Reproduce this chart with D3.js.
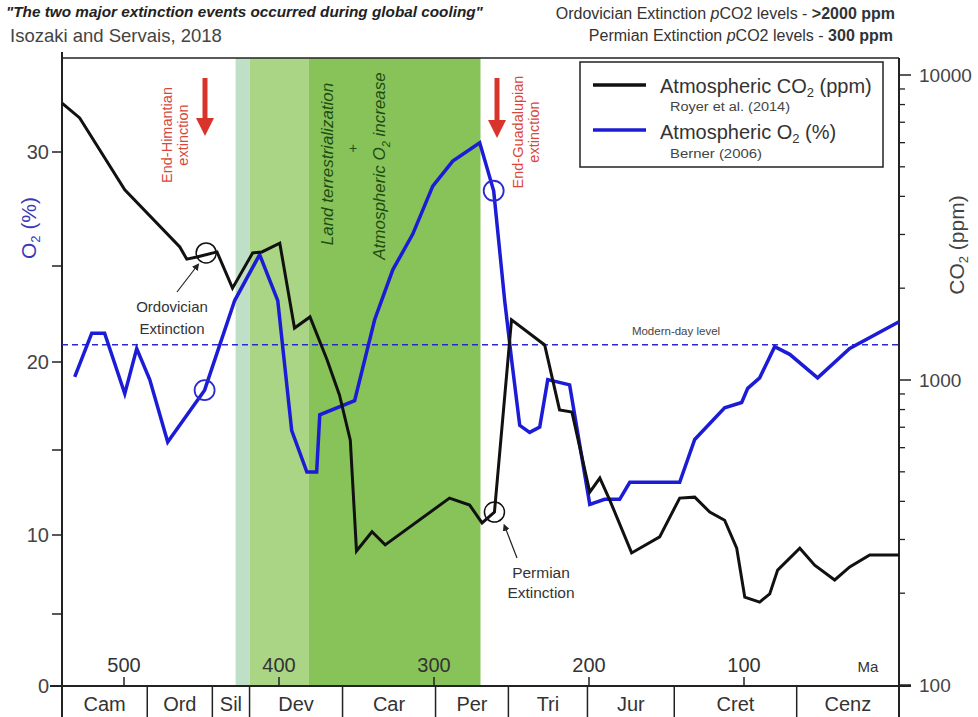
<!DOCTYPE html>
<html><head><meta charset="utf-8">
<script src="https://cdn.jsdelivr.net/npm/d3@7"></script>
<style>body{margin:0;background:#fff}svg{display:block}text{font-family:"Liberation Sans",Arial,sans-serif}</style>
</head><body><svg id="c" width="978" height="717"></svg>
<script>
// ---- data ----
const co2Age = [540,528.6,499.5,464,459.5,453,440,430,417,411,399.5,390,380,369,361,354,350,340,331.5,290,277,269,261,250,228.6,219,211,199.5,193,186.6,172.5,154.4,141.5,131.8,122.1,112.5,104.7,99.5,89.9,83.4,78.3,64,54.4,41.5,31.8,18.9,0];
const co2Ppm = [8090,7230,4200,2730,2490,2530,2630,2000,2610,2630,2810,1480,1610,1165,893,635,275,318,288,410,389,340,369,1575,1303,798,785,429,477,404,271,306,410,413,369,347,281,194,187,199,238,281,247,221,244,267,267];
const o2Age = [531.8,520.8,512.5,499.5,491.8,483.4,471.8,448,428.6,412.5,400.8,391.8,382,375.7,373.7,351.2,338.3,326.6,313.7,300.8,287.9,270.5,261.5,254.4,249.9,244.7,238.3,231.8,226.6,212.5,199.5,189.9,180.2,173.7,141.5,131.8,112.5,101.5,97.6,89.9,80.2,70.5,52.5,31.8,0];
const o2Pct = [19.15,21.5,21.5,18.2,20.7,19.0,15.45,18.4,23.2,25.5,23.2,16.1,13.7,13.7,17.0,17.8,22.2,24.8,26.4,28.5,29.6,30.4,28.3,23.2,20.1,16.4,16.0,16.3,19.0,18.7,11.8,12.1,12.1,13.1,13.1,15.6,17.4,17.7,18.5,19.1,20.8,20.4,19.1,20.7,22.1];
const periods = ["Cam","Ord","Sil","Dev","Car","Per","Tri","Jur","Cret","Cenz"];
const periodStart = [540,485,443,419,359,299,252,201,145,66];
const periodEnd = [485,443,419,359,299,252,201,145,66,0];
const ageTicks = [500,400,300,200,100];
const o2Ticks = [0,5,10,15,20,25,30];
const o2Labels = [0,10,20,30];
const co2Major = [100,1000,10000];
const co2Minor = [200,300,400,500,600,700,800,900,2000,3000,4000,5000,6000,7000,8000,9000];
const bandStart = [428,419,381];
const bandEnd = [419,381,270];
const bandColor = ["#bfe0c6","#a9d585","#88c35a"];
const modernO2 = 20.9;
const circlesCO2 = [[447,2610],[261,369]];
const circlesO2 = [[448,18.4],[261.5,28.3]];

// ---- scales ----
const svg = d3.select("#c");
const L = 62, R = 899, T = 58, B = 686;
const x = d3.scaleLinear().domain([540,0]).range([L,R]);
const yO2 = d3.scaleLinear().domain(o2Ticks).range([686,614,535,450,362,266,152]);
const yCO2 = d3.scaleLog().domain([100,10000]).range([685,75]);

// bands
svg.selectAll("rect.band").data(bandStart).join("rect")
  .attr("x",(d,i)=>x(d)).attr("y",T).attr("width",(d,i)=>x(bandEnd[i])-x(d)).attr("height",B-T)
  .attr("fill",(d,i)=>bandColor[i]);

// frame
svg.append("line").attr("x1",L).attr("x2",R).attr("y1",T).attr("y2",T).attr("stroke","#222").attr("stroke-width",1.5);
svg.append("line").attr("x1",L).attr("x2",L).attr("y1",T-6).attr("y2",717).attr("stroke","#222").attr("stroke-width",2);
svg.append("line").attr("x1",R).attr("x2",R).attr("y1",T).attr("y2",717).attr("stroke","#222").attr("stroke-width",2);
svg.append("line").attr("x1",L-12).attr("x2",R+12).attr("y1",B).attr("y2",B).attr("stroke","#222").attr("stroke-width",2);

// left axis ticks
svg.selectAll("line.lt").data(o2Ticks).join("line").attr("x1",L-10).attr("x2",L).attr("y1",d=>yO2(d)).attr("y2",d=>yO2(d)).attr("stroke","#222").attr("stroke-width",1.5);
svg.selectAll("text.ll").data(o2Labels).join("text").attr("x",L-13).attr("y",d=>yO2(d)+7).attr("text-anchor","end")
  .attr("font-size",20).attr("fill","#444").text(d=>d);

// right axis ticks
svg.selectAll("line.rt").data(co2Minor).join("line").attr("x1",R).attr("x2",R+6).attr("y1",d=>yCO2(d)).attr("y2",d=>yCO2(d)).attr("stroke","#222").attr("stroke-width",1.3);
svg.selectAll("line.rM").data(co2Major).join("line").attr("x1",R).attr("x2",R+12).attr("y1",d=>yCO2(d)).attr("y2",d=>yCO2(d)).attr("stroke","#222").attr("stroke-width",1.5);
svg.selectAll("text.rl").data(co2Major).join("text").attr("x",R+20).attr("y",d=>yCO2(d)+7)
  .attr("font-size",19).attr("fill","#444").text(d=>d);

// age ticks
svg.selectAll("line.at").data(ageTicks).join("line").attr("x1",d=>x(d)).attr("x2",d=>x(d)).attr("y1",B).attr("y2",B-9).attr("stroke","#222").attr("stroke-width",1.5);
svg.selectAll("text.al").data(ageTicks).join("text").attr("x",d=>x(d)).attr("y",B-14).attr("text-anchor","middle")
  .attr("font-size",20).attr("fill","#333").text(d=>d);
svg.append("text").attr("x",868).attr("y",B-14).attr("text-anchor","middle").attr("font-size",15).attr("fill","#333").text("Ma");

// periods
svg.selectAll("line.pd").data(periodStart.slice(1)).join("line").attr("x1",d=>x(d)).attr("x2",d=>x(d)).attr("y1",B).attr("y2",717).attr("stroke","#222").attr("stroke-width",1.5);
svg.selectAll("text.pn").data(periods).join("text").attr("x",(d,i)=>(x(periodStart[i])+x(periodEnd[i]))/2).attr("y",711)
  .attr("text-anchor","middle").attr("font-size",20).attr("fill","#333").text(d=>d);

// modern-day level
svg.append("line").attr("x1",L).attr("x2",R).attr("y1",yO2(modernO2)).attr("y2",yO2(modernO2)).attr("stroke","#2a2ad0").attr("stroke-width",1.6).attr("stroke-dasharray","6,4");
svg.append("text").attr("x",676).attr("y",yO2(modernO2)-10).attr("text-anchor","middle").attr("font-size",11.5).attr("fill","#444").text("Modern-day level");

// lines
const co2Line = d3.line().x(d=>x(d[0])).y(d=>yCO2(d[1]));
const o2Line = d3.line().x(d=>x(d[0])).y(d=>yO2(d[1]));
svg.append("path").attr("d",o2Line(o2Age.map((a,i)=>[a,o2Pct[i]]))).attr("fill","none").attr("stroke","#1c1cd6").attr("stroke-width",3.5).attr("stroke-linejoin","miter");
svg.append("path").attr("d",co2Line(co2Age.map((a,i)=>[a,co2Ppm[i]]))).attr("fill","none").attr("stroke","#111").attr("stroke-width",3).attr("stroke-linejoin","miter");

// circles
svg.selectAll("circle.cc").data(circlesCO2).join("circle").attr("cx",d=>x(d[0])).attr("cy",d=>yCO2(d[1])).attr("r",10).attr("fill","none").attr("stroke","#111").attr("stroke-width",1.5);
svg.selectAll("circle.co").data(circlesO2).join("circle").attr("cx",d=>x(d[0])).attr("cy",d=>yO2(d[1])).attr("r",10).attr("fill","none").attr("stroke","#2a2ad0").attr("stroke-width",1.8);

// arrows defs
const defs = svg.append("defs");
defs.append("marker").attr("id","ah").attr("viewBox","0 0 10 10").attr("refX",5).attr("refY",5).attr("markerWidth",6).attr("markerHeight",6).attr("orient","auto")
  .append("path").attr("d","M0,0L10,5L0,10z").attr("fill","#222");
function redArrow(cx, y1, y2){
  svg.append("line").attr("x1",cx).attr("x2",cx).attr("y1",y1).attr("y2",y2-14).attr("stroke","#d9342b").attr("stroke-width",5);
  svg.append("path").attr("d",`M${cx-9},${y2-18}L${cx+9},${y2-18}L${cx},${y2}z`).attr("fill","#d9342b");
}
redArrow(205,78,136);
redArrow(497,78,138);
function vtext(xc, yc, str, size, color, style){
  const t = svg.append("text").attr("transform",`translate(${xc},${yc}) rotate(-90)`).attr("text-anchor","middle")
    .attr("font-size",size).attr("fill",color).attr("font-style",style||"normal");
  t.text(str); return t;
}
vtext(172,135,"End-Himantian",14.5,"#d9463a");
vtext(188,135,"extinction",14.5,"#d9463a");
vtext(523,132,"End-Guadalupian",14.5,"#d9463a");
vtext(539,132,"extinction",14.5,"#d9463a");
vtext(333,164,"Land terrestrialization",17,"#1e4d12","italic");
svg.append("text").attr("x",353).attr("y",153).attr("text-anchor","middle").attr("font-size",14).attr("fill","#1e4d12").text("+");
const at = vtext(385,166,"",17,"#1e4d12","italic");
at.append("tspan").text("Atmospheric O");
at.append("tspan").attr("font-size",11).attr("dy",5).text("2");
at.append("tspan").attr("dy",-5).text(" increase");

// extinction labels
svg.append("text").attr("x",172).attr("y",312).attr("text-anchor","middle").attr("font-size",15).attr("fill","#333").text("Ordovician");
svg.append("text").attr("x",172).attr("y",334).attr("text-anchor","middle").attr("font-size",15).attr("fill","#333").text("Extinction");
svg.append("line").attr("x1",177).attr("y1",292).attr("x2",197).attr("y2",266).attr("stroke","#222").attr("stroke-width",1.2).attr("marker-end","url(#ah)");
svg.append("text").attr("x",541).attr("y",578).attr("text-anchor","middle").attr("font-size",15.5).attr("fill","#333").text("Permian");
svg.append("text").attr("x",541).attr("y",598).attr("text-anchor","middle").attr("font-size",15.5).attr("fill","#333").text("Extinction");
svg.append("line").attr("x1",517).attr("y1",558).attr("x2",505).attr("y2",527).attr("stroke","#222").attr("stroke-width",1.2).attr("marker-end","url(#ah)");

// axis titles
const o2t = svg.append("text").attr("transform","translate(36,228) rotate(-90)").attr("text-anchor","middle").attr("font-size",21).attr("fill","#3a3ab8");
o2t.append("tspan").text("O"); o2t.append("tspan").attr("font-size",13).attr("dy",4).text("2"); o2t.append("tspan").attr("dy",-4).text(" (%)");
const co2t = svg.append("text").attr("transform","translate(964,245) rotate(-90)").attr("text-anchor","middle").attr("font-size",21).attr("fill","#444");
co2t.append("tspan").text("CO"); co2t.append("tspan").attr("font-size",13).attr("dy",4).text("2"); co2t.append("tspan").attr("dy",-4).text(" (ppm)");

// legend
svg.append("rect").attr("x",580).attr("y",62).attr("width",303).attr("height",105).attr("fill","#fff").attr("stroke","#222").attr("stroke-width",1.5);
svg.append("line").attr("x1",593).attr("x2",646).attr("y1",85).attr("y2",85).attr("stroke","#111").attr("stroke-width",3.5);
svg.append("line").attr("x1",593).attr("x2",646).attr("y1",130).attr("y2",130).attr("stroke","#1c1cd6").attr("stroke-width",3.5);
const l1 = svg.append("text").attr("x",660).attr("y",93).attr("font-size",20).attr("fill","#333");
l1.append("tspan").text("Atmospheric CO"); l1.append("tspan").attr("font-size",13).attr("dy",4).text("2"); l1.append("tspan").attr("dy",-4).text(" (ppm)");
svg.append("text").attr("x",670).attr("y",111).attr("font-size",12.5).attr("fill","#444").attr("textLength",120).attr("lengthAdjust","spacingAndGlyphs").text("Royer et al. (2014)");
const l2 = svg.append("text").attr("x",660).attr("y",139).attr("font-size",20).attr("fill","#333");
l2.append("tspan").text("Atmospheric O"); l2.append("tspan").attr("font-size",13).attr("dy",4).text("2"); l2.append("tspan").attr("dy",-4).text(" (%)");
svg.append("text").attr("x",670).attr("y",158).attr("font-size",12.5).attr("fill","#444").attr("textLength",92).attr("lengthAdjust","spacingAndGlyphs").text("Berner (2006)");

// header
svg.append("text").attr("x",6).attr("y",17).attr("font-size",15.3).attr("font-weight","bold").attr("font-style","italic").attr("fill","#222")
  .text("\"The two major extinction events occurred during global cooling\"");
svg.append("text").attr("x",10).attr("y",42).attr("font-size",18.5).attr("fill","#444").text("Isozaki and Servais, 2018");
const h1 = svg.append("text").attr("x",895).attr("y",19).attr("text-anchor","end").attr("font-size",16).attr("fill","#333");
h1.append("tspan").text("Ordovician Extinction ");
h1.append("tspan").attr("font-style","italic").text("p");
h1.append("tspan").text("CO2 levels -  ");
h1.append("tspan").attr("font-weight","bold").text(">2000 ppm");
const h2 = svg.append("text").attr("x",893).attr("y",41).attr("text-anchor","end").attr("font-size",16).attr("fill","#333");
h2.append("tspan").text("Permian Extinction ");
h2.append("tspan").attr("font-style","italic").text("p");
h2.append("tspan").text("CO2 levels -  ");
h2.append("tspan").attr("font-weight","bold").text("300 ppm");
</script></body></html>
